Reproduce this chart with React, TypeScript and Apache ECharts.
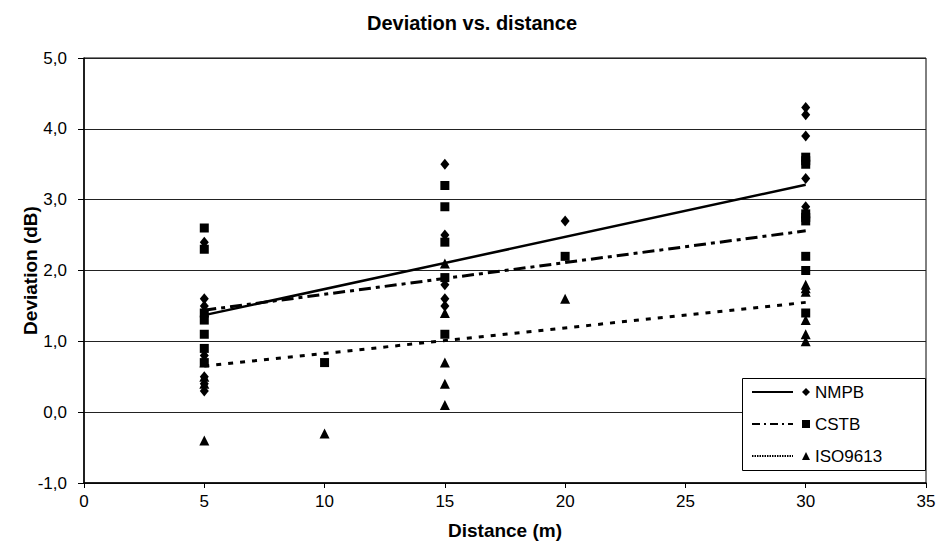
import React, { useEffect, useRef } from "react";
import * as echarts from "echarts";

const xTicks = [0, 5, 10, 15, 20, 25, 30, 35];
const yTicks = [-1, 0, 1, 2, 3, 4, 5];

const nmpbPoints: [number, number][] = [
  [5, 2.4], [5, 1.6], [5, 1.5], [5, 0.8], [5, 0.5], [5, 0.4], [5, 0.3],
  [15, 3.5], [15, 2.5], [15, 1.8], [15, 1.6], [15, 1.5],
  [20, 2.7],
  [30, 4.3], [30, 4.2], [30, 3.9], [30, 3.3], [30, 2.9],
];
const cstbPoints: [number, number][] = [
  [5, 2.6], [5, 2.3], [5, 1.4], [5, 1.3], [5, 1.1], [5, 0.9], [5, 0.7],
  [10, 0.7],
  [15, 3.2], [15, 2.9], [15, 2.4], [15, 1.9], [15, 1.1],
  [20, 2.2],
  [30, 3.6], [30, 3.55], [30, 3.5], [30, 2.8], [30, 2.75], [30, 2.7], [30, 2.2], [30, 2.0], [30, 1.4],
];
const isoPoints: [number, number][] = [
  [5, 0.7], [5, 0.5], [5, 0.4], [5, -0.4],
  [10, -0.3],
  [15, 2.1], [15, 1.4], [15, 0.7], [15, 0.4], [15, 0.1],
  [20, 1.6],
  [30, 1.8], [30, 1.75], [30, 1.7], [30, 1.3], [30, 1.1], [30, 1.0],
];

const nmpbTrend: [number, number][] = [[5, 1.37], [30, 3.21]];
const cstbTrend: [number, number][] = [[5, 1.44], [30, 2.56]];
const isoTrend: [number, number][] = [[5, 0.65], [30, 1.55]];

const seriesNames = ["NMPB", "CSTB", "ISO9613"];

const FONT = "'Liberation Sans', Arial, sans-serif";

export default function App() {
  const ref = useRef<HTMLDivElement>(null);
  useEffect(() => {
    if (!ref.current) return;
    const chart = echarts.init(ref.current, undefined, { renderer: "svg" });
    const legendX = 742;
    const legendTop = 378;
    const rowY = [392, 424, 456];
    chart.setOption({
      animation: false,
      backgroundColor: "#fff",
      title: {
        text: "Deviation vs. distance",
        left: "center",
        top: 8,
        textStyle: { fontFamily: FONT, fontSize: 20, fontWeight: "bold", color: "#000" },
      },
      grid: { left: 84, right: 18, top: 58, bottom: 71, show: true, borderColor: "#000", borderWidth: 1 },
      xAxis: {
        type: "value",
        min: xTicks[0],
        max: xTicks[xTicks.length - 1],
        interval: 5,
        name: "Distance (m)",
        nameLocation: "middle",
        nameGap: 38,
        nameMoveOverlap: false,
        nameTextStyle: { fontFamily: FONT, fontSize: 19, fontWeight: "bold", color: "#000" },
        axisLine: { onZero: false, lineStyle: { color: "#000", width: 1.5 } },
        axisTick: { show: true, inside: false, length: 5, lineStyle: { color: "#000" } },
        axisLabel: { fontFamily: FONT, fontSize: 17, color: "#000", margin: 10 },
        splitLine: { show: false },
      },
      yAxis: {
        type: "value",
        min: yTicks[0],
        max: yTicks[yTicks.length - 1],
        interval: 1,
        name: "Deviation (dB)",
        nameLocation: "middle",
        nameGap: 44,
        nameMoveOverlap: false,
        nameTextStyle: { fontFamily: FONT, fontSize: 19, fontWeight: "bold", color: "#000" },
        axisLine: { show: true, onZero: false, lineStyle: { color: "#000", width: 1.5 } },
        axisTick: { show: true, inside: false, length: 6, lineStyle: { color: "#000" } },
        axisLabel: {
          fontFamily: FONT,
          fontSize: 17,
          color: "#000",
          margin: 17,
          formatter: (v: number) => v.toFixed(1).replace(".", ","),
        },
        splitLine: { show: true, lineStyle: { color: "#222", width: 1 } },
      },
      legend: {
        data: seriesNames,
        orient: "vertical",
        left: legendX + 60,
        top: legendTop + 5,
        itemWidth: 8,
        itemHeight: 8,
        itemGap: 14,
        padding: 0,
        z: 20,
        textStyle: { fontFamily: FONT, fontSize: 17, color: "#000", lineHeight: 18 },
        inactiveColor: "#000",
        selectedMode: false,
      },
      graphic: [
        {
          type: "rect",
          left: legendX,
          top: legendTop,
          shape: { width: 183, height: 92 },
          style: { fill: "#fff", stroke: "#000", lineWidth: 1 },
          z: 5,
        },
        {
          type: "line",
          shape: { x1: legendX + 10, y1: rowY[0], x2: legendX + 51, y2: rowY[0] },
          style: { stroke: "#000", lineWidth: 2 },
          z: 6,
        },
        {
          type: "line",
          shape: { x1: legendX + 10, y1: rowY[1], x2: legendX + 51, y2: rowY[1] },
          style: { stroke: "#000", lineWidth: 2, lineDash: [8, 4, 2, 4] },
          z: 6,
        },
        {
          type: "line",
          shape: { x1: legendX + 10, y1: rowY[2], x2: legendX + 51, y2: rowY[2] },
          style: { stroke: "#000", lineWidth: 2, lineDash: [1.5, 1] },
          z: 6,
        },
      ],
      series: [
        {
          name: "NMPB",
          type: "scatter",
          symbol: "diamond",
          symbolSize: [9, 11],
          itemStyle: { color: "#000", opacity: 1 },
          data: nmpbPoints,
          z: 3,
        },
        {
          name: "CSTB",
          type: "scatter",
          symbol: "rect",
          symbolSize: 9,
          itemStyle: { color: "#000", opacity: 1 },
          data: cstbPoints,
          z: 3,
        },
        {
          name: "ISO9613",
          type: "scatter",
          symbol: "triangle",
          symbolSize: [10, 10],
          itemStyle: { color: "#000", opacity: 1 },
          data: isoPoints,
          z: 3,
        },
        {
          name: "NMPB trend",
          type: "line",
          data: nmpbTrend,
          showSymbol: false,
          symbol: "none",
          lineStyle: { color: "#000", width: 2.5, type: "solid" },
          z: 2,
        },
        {
          name: "CSTB trend",
          type: "line",
          data: cstbTrend,
          showSymbol: false,
          symbol: "none",
          lineStyle: { color: "#000", width: 3, type: [12, 5, 4, 5] },
          z: 2,
        },
        {
          name: "ISO9613 trend",
          type: "line",
          data: isoTrend,
          showSymbol: false,
          symbol: "none",
          lineStyle: { color: "#000", width: 3, type: [5, 7] },
          z: 2,
        },
      ],
    });
    return () => chart.dispose();
  }, []);
  return <div ref={ref} style={{ width: 944, height: 554, position: "absolute", left: 0, top: 0 }} />;
}
